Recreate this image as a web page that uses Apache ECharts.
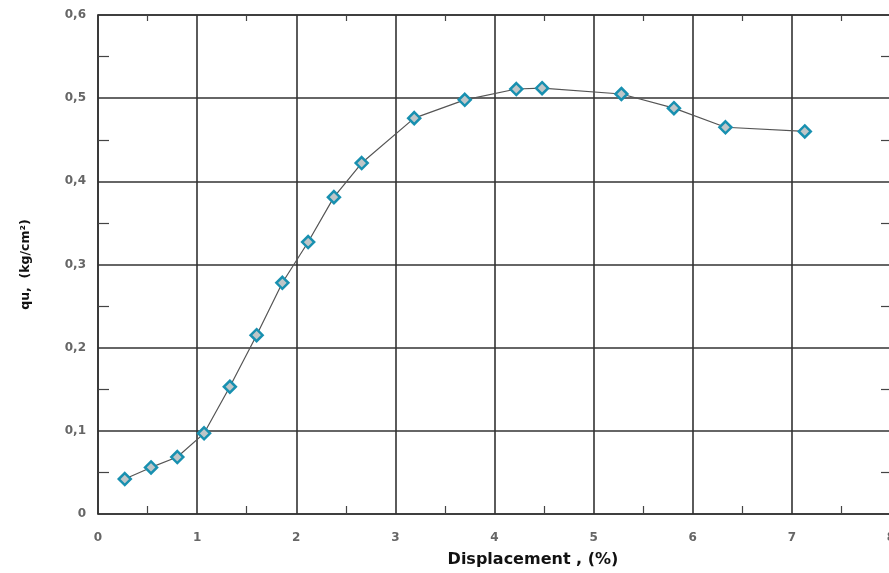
<!DOCTYPE html>
<html><head><meta charset="utf-8">
<script src="https://cdn.jsdelivr.net/npm/echarts@6/dist/echarts.min.js"></script>
<style>html,body{margin:0;padding:0;background:#fff}#c{width:889px;height:573px}</style>
</head><body><div id="c"></div>
<script>
const displacement = [0.27, 0.535, 0.80, 1.07, 1.33, 1.60, 1.86, 2.12, 2.38, 2.66, 3.19, 3.70, 4.22, 4.48, 5.28, 5.81, 6.33, 7.13];
const qu = [0.042, 0.056, 0.0685, 0.097, 0.153, 0.215, 0.278, 0.327, 0.381, 0.422, 0.476, 0.498, 0.511, 0.512, 0.505, 0.488, 0.465, 0.460];
const xTitle = 'Displacement , (%)';
const yTitle = 'qu,  (kg/cm²)';

const chart = echarts.init(document.getElementById('c'));
const fmtY = v => v === 0 ? '0' : v.toFixed(1).replace('.', ',');
const gridLine = {show: true, lineStyle: {color: '#333', width: 1.6}};
const labelStyle = {color: '#666', fontFamily: 'DejaVu Sans', fontWeight: 'bold', fontSize: 12};
const minor = len => ({show: true, splitNumber: 2, length: len, lineStyle: {color: '#444', width: 1.2}});
const axisLine = {show: true, onZero: false, lineStyle: {color: '#333', width: 1.6}};
chart.setOption({
  animation: false,
  grid: {left: 98, top: 15, width: 793, height: 499, outerBoundsMode: 'none', containLabel: false},
  xAxis: [{
    type: 'value', min: 0, max: 8, interval: 1,
    name: xTitle, nameLocation: 'middle', nameGap: 38,
    nameTextStyle: {color: '#111', fontFamily: 'DejaVu Sans', fontWeight: 'bold', fontSize: 16, padding: [0, 0, 0, 77]},
    axisLine: axisLine,
    axisTick: {show: false, inside: true},
    minorTick: minor(8),
    splitLine: gridLine,
    axisLabel: Object.assign({margin: 18}, labelStyle)
  }, {
    type: 'value', min: 0, max: 8, interval: 1, position: 'top',
    axisLine: axisLine,
    axisTick: {show: false, inside: true}, axisLabel: {show: false}, splitLine: {show: false},
    minorTick: minor(6)
  }],
  yAxis: [{
    type: 'value', min: 0, max: 0.6, interval: 0.1,
    name: yTitle, nameLocation: 'middle', nameGap: 66, nameRotate: 90,
    nameTextStyle: {color: '#111', fontFamily: 'DejaVu Sans', fontWeight: 'bold', fontSize: 12.5},
    axisLine: axisLine,
    axisTick: {show: false, inside: true},
    minorTick: minor(11),
    splitLine: gridLine,
    axisLabel: Object.assign({margin: 12, formatter: fmtY}, labelStyle)
  }, {
    type: 'value', min: 0, max: 0.6, interval: 0.1, position: 'right',
    axisLine: axisLine,
    axisTick: {show: false, inside: true}, axisLabel: {show: false}, splitLine: {show: false},
    minorTick: minor(10)
  }],
  series: [{
    type: 'line',
    data: displacement.map((x, i) => [x, qu[i]]),
    symbol: 'diamond', symbolSize: 12,
    lineStyle: {color: '#555', width: 1.2},
    itemStyle: {color: '#bfc6c8', borderColor: '#1890b0', borderWidth: 2.5},
    z: 5
  }]
});
</script></body></html>
